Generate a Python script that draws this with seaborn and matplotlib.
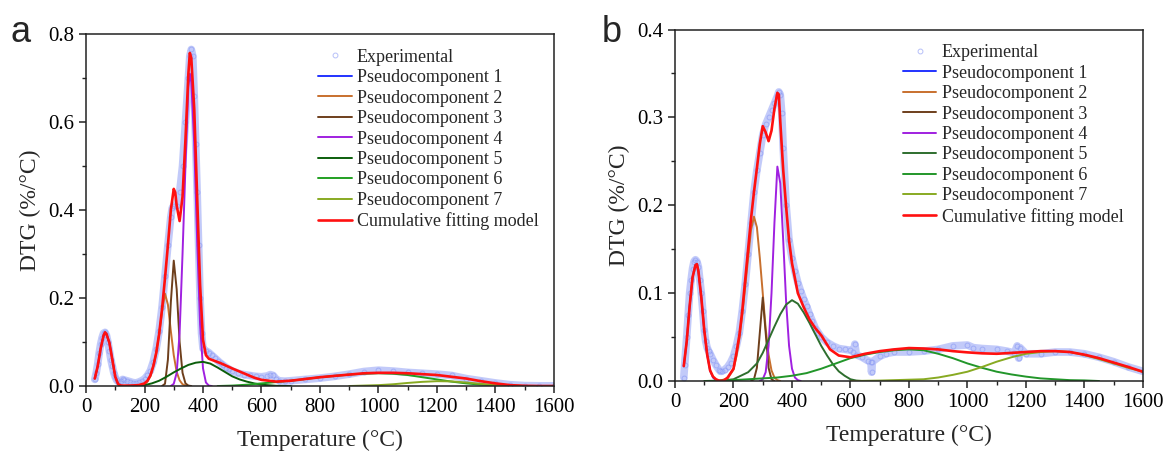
import matplotlib
matplotlib.use("Agg")
import matplotlib.pyplot as plt
from matplotlib.ticker import MultipleLocator, FormatStrFormatter
import seaborn as sns

# ---------------- panel a ----------------
a_exp_t = [30, 35, 40, 45, 50, 55, 60, 65, 70, 75, 80, 85, 90, 95, 100, 105, 110, 120, 125, 130,
           140, 150, 160, 170, 180, 190, 200, 210, 220, 230, 240, 250, 260, 270, 280, 290, 295, 300,
           310, 320, 330, 340, 350, 355, 360, 365, 370, 375, 380, 385, 390, 395, 400, 410, 420, 430,
           440, 450, 460, 470, 480, 490, 500, 520, 540, 560, 580, 600, 620, 630, 640, 650, 660, 680,
           700, 750, 800, 850, 900, 950, 1000, 1050, 1100, 1150, 1200, 1250, 1300, 1350, 1400, 1450,
           1500, 1550, 1600]
a_exp_v = [0.015, 0.03, 0.05, 0.075, 0.095, 0.11, 0.12, 0.122, 0.115, 0.1, 0.08, 0.06, 0.045, 0.03,
           0.02, 0.013, 0.01, 0.012, 0.015, 0.014, 0.012, 0.01, 0.008, 0.007, 0.009, 0.012, 0.016,
           0.024, 0.035, 0.055, 0.085, 0.125, 0.18, 0.25, 0.32, 0.385, 0.405, 0.41, 0.41, 0.44, 0.5,
           0.6, 0.7, 0.75, 0.765, 0.75, 0.66, 0.55, 0.44, 0.32, 0.2, 0.12, 0.085, 0.08, 0.076, 0.07,
           0.064, 0.058, 0.052, 0.047, 0.042, 0.038, 0.034, 0.029, 0.026, 0.024, 0.022, 0.021, 0.023,
           0.026, 0.024, 0.016, 0.012, 0.011, 0.012, 0.015, 0.018, 0.022, 0.027, 0.033, 0.036, 0.034,
           0.031, 0.029, 0.027, 0.024, 0.017, 0.012, 0.007, 0.003, 0.001, 0.0005, 0.0005]

a_c1_t = [30, 40, 50, 60, 65, 70, 80, 90, 100, 110, 120, 130]
a_c1_v = [0.017, 0.045, 0.085, 0.115, 0.122, 0.118, 0.098, 0.06, 0.021, 0.004, 0.001, 0.0]
a_c2_t = [190, 200, 210, 220, 230, 240, 250, 260, 270, 280, 290, 300, 310, 320, 330, 340, 350]
a_c2_v = [0.001, 0.004, 0.01, 0.022, 0.045, 0.075, 0.118, 0.17, 0.21, 0.185, 0.125, 0.07, 0.032,
          0.013, 0.004, 0.001, 0.0]
a_c3_t = [260, 270, 280, 290, 300, 310, 320, 330, 340, 350, 360]
a_c3_v = [0.0, 0.005, 0.06, 0.19, 0.285, 0.22, 0.1, 0.03, 0.006, 0.001, 0.0]
a_c4_t = [290, 300, 310, 320, 330, 340, 350, 355, 360, 370, 380, 390, 400, 410, 420, 430]
a_c4_v = [0.0, 0.005, 0.03, 0.12, 0.3, 0.5, 0.68, 0.71, 0.69, 0.55, 0.33, 0.14, 0.04, 0.008,
          0.001, 0.0]
a_c5_t = [180, 200, 225, 250, 275, 300, 325, 350, 375, 400, 425, 450, 475, 500, 525, 550, 575,
          600, 650, 700]
a_c5_v = [0.0, 0.002, 0.006, 0.012, 0.021, 0.031, 0.04, 0.048, 0.053, 0.055, 0.051, 0.042, 0.032,
          0.022, 0.015, 0.01, 0.006, 0.003, 0.0005, 0.0]
a_c6_t = [450, 500, 550, 600, 650, 700, 750, 800, 850, 900, 950, 1000, 1050, 1100, 1150, 1200,
          1250, 1300, 1350, 1400, 1450, 1500]
a_c6_v = [0.0, 0.001, 0.003, 0.006, 0.009, 0.012, 0.016, 0.02, 0.023, 0.026, 0.028, 0.029, 0.028,
          0.025, 0.02, 0.015, 0.01, 0.006, 0.003, 0.0015, 0.0005, 0.0]
a_c7_t = [900, 950, 1000, 1050, 1100, 1150, 1200, 1250, 1300, 1350, 1400, 1450, 1500]
a_c7_v = [0.0, 0.001, 0.002, 0.004, 0.007, 0.0095, 0.011, 0.0105, 0.008, 0.005, 0.002, 0.0008, 0.0]

a_fit_t = [30, 40, 50, 60, 65, 70, 80, 90, 100, 110, 120, 150, 180, 200, 210, 220, 230, 240, 250,
           260, 270, 280, 290, 300, 305, 310, 320, 330, 340, 350, 355, 360, 370, 380, 390, 400, 410,
           420, 440, 460, 480, 500, 525, 550, 575, 600, 650, 700, 750, 800, 850, 900, 950, 1000,
           1050, 1100, 1150, 1200, 1250, 1300, 1350, 1400, 1450, 1500, 1550, 1600]
a_fit_v = [0.017, 0.045, 0.085, 0.115, 0.122, 0.118, 0.098, 0.06, 0.021, 0.004, 0.001, 0.001,
           0.002, 0.006, 0.012, 0.024, 0.045, 0.075, 0.118, 0.175, 0.245, 0.32, 0.4, 0.448, 0.44,
           0.41, 0.375, 0.43, 0.56, 0.71, 0.757, 0.745, 0.63, 0.43, 0.23, 0.105, 0.07, 0.062, 0.057,
           0.052, 0.046, 0.04, 0.033, 0.026, 0.019, 0.014, 0.01, 0.012, 0.016, 0.02, 0.023, 0.026,
           0.029, 0.03, 0.03, 0.029, 0.027, 0.025, 0.021, 0.017, 0.011, 0.006, 0.002, 0.0005, 0.0,
           0.0]

# ---------------- panel b ----------------
b_exp_t = [30, 33, 40, 45, 50, 55, 60, 65, 70, 75, 80, 85, 90, 95, 100, 105, 110, 115, 120, 130,
           140, 150, 155, 160, 170, 180, 190, 200, 210, 220, 230, 240, 250, 260, 270, 280, 290, 300,
           310, 320, 330, 340, 350, 355, 360, 365, 370, 380, 390, 400, 410, 420, 430, 440, 450, 460,
           470, 480, 490, 500, 520, 540, 560, 580, 600, 610, 615, 620, 640, 660, 670, 672, 675, 700,
           720, 750, 800, 850, 900, 950, 1000, 1020, 1050, 1100, 1135, 1160, 1170, 1175, 1180, 1200,
           1250, 1300, 1350, 1400, 1450, 1500, 1550, 1600]
b_exp_v = [0.004, 0.018, 0.05, 0.075, 0.1, 0.115, 0.128, 0.136, 0.138, 0.136, 0.13, 0.115, 0.1,
           0.08, 0.058, 0.045, 0.038, 0.034, 0.031, 0.024, 0.018, 0.013, 0.011, 0.011, 0.013, 0.016,
           0.021, 0.028, 0.04, 0.055, 0.08, 0.11, 0.145, 0.18, 0.215, 0.24, 0.26, 0.28, 0.292, 0.3,
           0.308, 0.316, 0.324, 0.329, 0.326, 0.305, 0.265, 0.2, 0.16, 0.14, 0.125, 0.112, 0.102,
           0.093, 0.085, 0.076, 0.068, 0.06, 0.055, 0.05, 0.044, 0.04, 0.037, 0.036, 0.035, 0.033,
           0.042, 0.03, 0.027, 0.023, 0.022, 0.01, 0.022, 0.028, 0.031, 0.033, 0.033, 0.034, 0.036,
           0.04, 0.041, 0.038, 0.037, 0.036, 0.034, 0.032, 0.04, 0.026, 0.038, 0.031, 0.031, 0.033,
           0.033, 0.031, 0.027, 0.022, 0.016, 0.011]

b_c1_t = [30, 40, 50, 60, 70, 75, 80, 90, 100, 110, 120, 130, 140, 150]
b_c1_v = [0.017, 0.045, 0.085, 0.118, 0.132, 0.133, 0.125, 0.095, 0.058, 0.03, 0.012, 0.004,
          0.001, 0.0]
b_c2_t = [150, 180, 200, 210, 220, 230, 240, 250, 260, 270, 280, 290, 300, 310, 320, 330, 340,
          350, 360]
b_c2_v = [0.0, 0.003, 0.013, 0.028, 0.048, 0.075, 0.107, 0.14, 0.172, 0.187, 0.175, 0.14, 0.1,
          0.06, 0.03, 0.012, 0.004, 0.001, 0.0]
b_c3_t = [260, 270, 280, 290, 300, 310, 320, 330, 340]
b_c3_v = [0.0, 0.002, 0.015, 0.055, 0.095, 0.055, 0.015, 0.002, 0.0]
b_c4_t = [290, 300, 310, 320, 330, 340, 350, 360, 370, 380, 390, 400, 410, 420, 430]
b_c4_v = [0.0, 0.002, 0.01, 0.04, 0.1, 0.18, 0.244, 0.225, 0.16, 0.09, 0.04, 0.014, 0.004, 0.001,
          0.0]
b_c5_t = [150, 200, 250, 280, 300, 320, 340, 360, 380, 400, 420, 440, 460, 480, 500, 520, 540,
          560, 580, 600, 620, 640]
b_c5_v = [0.0, 0.002, 0.01, 0.02, 0.032, 0.047, 0.062, 0.076, 0.087, 0.092, 0.088, 0.078, 0.066,
          0.053, 0.04, 0.029, 0.019, 0.011, 0.006, 0.002, 0.0005, 0.0]
b_c6_t = [100, 150, 200, 250, 300, 350, 400, 450, 500, 550, 600, 650, 700, 750, 800, 850, 900,
          950, 1000, 1050, 1100, 1150, 1200, 1250, 1300, 1350, 1400, 1450]
b_c6_v = [0.0, 0.0005, 0.001, 0.002, 0.003, 0.004, 0.006, 0.009, 0.014, 0.02, 0.026, 0.03, 0.033,
          0.035, 0.036, 0.035, 0.031, 0.026, 0.02, 0.015, 0.0106, 0.0075, 0.005, 0.003, 0.002,
          0.001, 0.0007, 0.0]
b_c7_t = [600, 700, 750, 800, 850, 900, 950, 1000, 1050, 1100, 1150, 1200, 1250, 1300, 1350,
          1400, 1450, 1500, 1550, 1600]
b_c7_v = [0.0, 0.0005, 0.001, 0.0015, 0.002, 0.004, 0.007, 0.0106, 0.016, 0.022, 0.027, 0.031,
          0.033, 0.034, 0.033, 0.0295, 0.025, 0.02, 0.015, 0.0106]

b_fit_t = [30, 40, 50, 60, 70, 75, 80, 90, 100, 110, 120, 130, 140, 150, 165, 180, 200, 210, 220,
           230, 240, 250, 260, 270, 280, 290, 300, 310, 320, 330, 340, 350, 355, 360, 370, 380, 390,
           400, 420, 440, 460, 480, 500, 530, 560, 600, 650, 700, 750, 800, 850, 900, 950, 1000,
           1050, 1100, 1150, 1200, 1250, 1300, 1350, 1400, 1450, 1500, 1550, 1600]
b_fit_v = [0.017, 0.045, 0.085, 0.118, 0.132, 0.133, 0.125, 0.095, 0.058, 0.03, 0.012, 0.005,
           0.002, 0.0005, 0.0, 0.004, 0.014, 0.032, 0.052, 0.08, 0.115, 0.15, 0.185, 0.215, 0.242,
           0.27, 0.29, 0.283, 0.273, 0.285, 0.31, 0.328, 0.326, 0.295, 0.24, 0.198, 0.16, 0.134,
           0.1, 0.084, 0.07, 0.06, 0.052, 0.036, 0.029, 0.027, 0.031, 0.034, 0.036, 0.0375, 0.037,
           0.036, 0.034, 0.0326, 0.0315, 0.031, 0.032, 0.033, 0.034, 0.034, 0.033, 0.03, 0.026,
           0.021, 0.016, 0.0105]

labels = ["Pseudocomponent 1", "Pseudocomponent 2", "Pseudocomponent 3", "Pseudocomponent 4",
          "Pseudocomponent 5", "Pseudocomponent 6", "Pseudocomponent 7"]
a_colors = ["#2233ff", "#c8702e", "#6e3f1c", "#a020e0", "#0b5e0b", "#22a022", "#88aa22"]
b_colors = ["#2233ff", "#c8702e", "#6e3f1c", "#a020e0", "#2e6e2e", "#22962a", "#88aa22"]
exp_color = "#8797f4"
fit_color = "#ff1010"

sns.set_theme(style="ticks")
plt.rcParams["font.family"] = ["Liberation Serif", "DejaVu Serif"]
plt.rcParams["axes.linewidth"] = 1.1
plt.rcParams["axes.edgecolor"] = "#222222"


def draw(ax, exp_t, exp_v, comps, colors, fit_t, fit_v, ymax, ystep, anchor):
    # thick faint band so the dense measured points read as a ribbon
    sns.lineplot(x=exp_t, y=exp_v, ax=ax, color=exp_color, lw=5.5, alpha=0.5, errorbar=None)
    sns.lineplot(x=exp_t, y=exp_v, ax=ax, color=exp_color, linestyle="none", marker="o",
                 markersize=3.5, markerfacecolor="none", markeredgecolor=exp_color,
                 markeredgewidth=0.7, alpha=0.6, errorbar=None, label="Experimental")
    for (t, v), c, lab in zip(comps, colors, labels):
        sns.lineplot(x=t, y=v, ax=ax, color=c, lw=1.4, errorbar=None, label=lab)
    sns.lineplot(x=fit_t, y=fit_v, ax=ax, color=fit_color, lw=1.9, errorbar=None,
                 label="Cumulative fitting model")

    ax.set_xlim(0, 1600)
    ax.set_ylim(0, ymax)
    ax.xaxis.set_major_locator(MultipleLocator(200))
    ax.xaxis.set_minor_locator(MultipleLocator(100))
    ax.yaxis.set_major_locator(MultipleLocator(ystep))
    ax.yaxis.set_minor_locator(MultipleLocator(ystep / 2))
    ax.yaxis.set_major_formatter(FormatStrFormatter("%.1f"))
    ax.tick_params(which="major", direction="out", length=5, width=1.1, labelsize=15,
                   colors="#222222", labelcolor="black")
    ax.tick_params(which="minor", direction="out", length=3, width=1.0, colors="#222222")
    for s in ax.spines.values():
        s.set_visible(True)
    ax.set_xlabel("Temperature (°C)", fontsize=17, labelpad=9)
    ax.set_ylabel("DTG (%/°C)", fontsize=17, labelpad=5)

    handles, labs = ax.get_legend_handles_labels()
    ax.legend(handles, labs, loc="upper left", bbox_to_anchor=anchor, frameon=False,
              fontsize=13, labelspacing=0.19, handlelength=1.85, handletextpad=0.3,
              borderpad=0, borderaxespad=0)


fig = plt.figure(figsize=(11.64, 4.55), dpi=100)
ax_a = fig.add_axes([0.0739, 0.1516, 0.402, 0.7736])
ax_b = fig.add_axes([0.5799, 0.1626, 0.402, 0.7725])

a_comps = [(a_c1_t, a_c1_v), (a_c2_t, a_c2_v), (a_c3_t, a_c3_v), (a_c4_t, a_c4_v),
           (a_c5_t, a_c5_v), (a_c6_t, a_c6_v), (a_c7_t, a_c7_v)]
b_comps = [(b_c1_t, b_c1_v), (b_c2_t, b_c2_v), (b_c3_t, b_c3_v), (b_c4_t, b_c4_v),
           (b_c5_t, b_c5_v), (b_c6_t, b_c6_v), (b_c7_t, b_c7_v)]

draw(ax_a, a_exp_t, a_exp_v, a_comps, a_colors, a_fit_t, a_fit_v, 0.8, 0.2, (0.496, 0.958))
draw(ax_b, b_exp_t, b_exp_v, b_comps, b_colors, b_fit_t, b_fit_v, 0.4, 0.1, (0.487, 0.958))

fig.text(0.0086, 0.908, "a", fontsize=26, family="Liberation Sans", va="baseline")
fig.text(0.517, 0.908, "b", fontsize=26, family="Liberation Sans", va="baseline")

fig.savefig("out.png", dpi=100)
